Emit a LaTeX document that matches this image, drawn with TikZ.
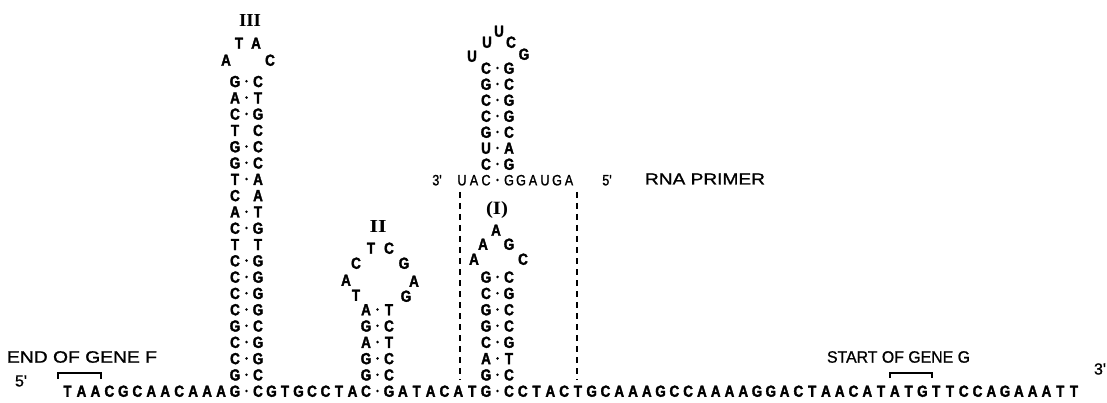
\documentclass[tikz,border=0pt]{standalone}
\usepackage{fontspec}
\usepackage{graphicx}
\setmainfont{Liberation Sans}
\newfontfamily\seqfont{Liberation Sans}[FakeStretch=0.84, BoldFeatures={FakeBold=2}]
\newfontfamily\labfont{Liberation Sans}[FakeBold=1]
\newfontfamily\rnafont{Liberation Sans}[FakeStretch=0.84, FakeBold=1.2]
\newfontfamily\romfont{Liberation Serif}
\newcommand\seqsize{\fontsize{16}{16}\selectfont}
\newcommand\rnasize{\fontsize{15}{15}\selectfont}

% a run of bases: name prefix, first x, pitch, y, letters
\newcommand\baserun[5]{%
  \foreach \c [count=\i] in {#5}
    \node[nt] (#1\i) at ({#2+(\i-1)*#3},#4) {\c};}

% a paired stem: name prefix, left x, right x, top y, row step, rows l/r/dot
\newcommand\stem[6]{%
  \foreach \l/\r/\d [count=\k] in {#6} {
    \node[nt] (#1l\k) at (#2,{#4+(\k-1)*#5}) {\l};
    \node[nt] (#1r\k) at (#3,{#4+(\k-1)*#5}) {\r};
    \ifnum\d=1 \fill ({(#2+#3)/2},{#4+(\k-1)*#5}) circle (1.4pt);\fi
  }}

\begin{document}
\begin{tikzpicture}[x=1pt,y=-1pt,
  nt/.style={font=\seqfont\seqsize\bfseries, inner sep=0pt, text height=11.5pt, text depth=0pt},
  rt/.style={font=\rnafont\rnasize, inner sep=0pt, text height=10.7pt, text depth=0pt},
  lab/.style={inner sep=0pt, font=\labfont},
  numeral/.style={inner sep=0pt, font=\romfont\bfseries},
  brk/.style={line width=1.5pt},
  guide/.style={line width=1.7pt, dash pattern=on 6pt off 5pt}]

\useasboundingbox (0,0) rectangle (1107,403);

% ---- template strand ----
\baserun{a}{67.5}{13.96}{391}{T,A,A,C,G,C,A,A,C,A,A,A,G}
\baserun{b}{258}{13.5}{391}{C,G,T,G,C,C,T,A,C}
\baserun{c}{389}{13.86}{391}{G,A,T,A,C,A,T,G}
\baserun{d}{509}{13.78}{391}{C,C,T,A,C,T,G,C,A,A,A,G,C,C,A,A,A,A,G,G,A,C,T,A,A,C,A,T,A,T,G,T,T,C,C,A,G,A,A,A,T,T}
\fill (246.5,391) circle (1.4pt);
\fill (377.5,391) circle (1.4pt);
\fill (497.5,391) circle (1.4pt);

\node[lab] (five) at (21,381) {\seqsize 5'};
\node[lab] (three) at (1100,369) {\seqsize 3'};

% ---- hairpin III ----
\stem{h3}{235}{258}{81.3}{16.3}{G/C/1,A/T/1,C/G/1,T/C/0,G/C/1,G/C/1,T/A/1,C/A/0,A/T/1,C/G/1,T/T/0,C/G/1,C/G/1,C/G/1,C/G/1,G/C/1,C/G/1,C/G/1,G/C/1}
\node[nt] (l3a) at (226,60) {A};
\node[nt] (l3b) at (239,43) {T};
\node[nt] (l3c) at (256,43) {A};
\node[nt] (l3d) at (270,60) {C};
\node[numeral] (n3) at (250,21) {\resizebox{22pt}{12pt}{III}};

% ---- hairpin II ----
\stem{h2}{366}{389}{309.5}{16.3}{A/T/1,G/C/1,A/T/1,G/C/1,G/C/1}
\node[nt] (l2a) at (356,295) {T};
\node[nt] (l2b) at (346,280) {A};
\node[nt] (l2c) at (356,263) {C};
\node[nt] (l2d) at (371,248) {T};
\node[nt] (l2e) at (389,248) {C};
\node[nt] (l2f) at (404,263) {G};
\node[nt] (l2g) at (414,281) {A};
\node[nt] (l2h) at (406,296) {G};
\node[numeral] (n2) at (378,227) {\resizebox{17pt}{12pt}{II}};

% ---- hairpin I ----
\stem{h1}{486}{509}{276.9}{16.3}{G/C/1,C/G/1,G/C/1,G/C/1,C/G/1,A/T/1,G/C/1}
\node[nt] (l1a) at (474,259) {A};
\node[nt] (l1b) at (483,244) {A};
\node[nt] (l1c) at (496,230) {A};
\node[nt] (l1d) at (509,244) {G};
\node[nt] (l1e) at (523,259) {C};
\node[numeral] (n1) at (497,210) {\resizebox{22pt}{13pt}{(I)}};

% ---- RNA primer hairpin ----
\stem{rp}{486}{509}{68}{16}{C/G/1,G/C/1,C/G/1,C/G/1,G/C/1,U/A/1,C/G/1}
\node[nt] (rla) at (472,56) {U};
\node[nt] (rlb) at (487,42) {U};
\node[nt] (rlc) at (499,31) {U};
\node[nt] (rld) at (511,42) {C};
\node[nt] (rle) at (524,54) {G};
\foreach \c/\x [count=\i] in {U/462,A/474,C/486,G/509,G/521,A/533,U/545,G/557,A/569}
  \node[rt] (r\i) at (\x,180) {\c};
\fill (497.5,180) circle (1.4pt);
\node[rt] (rthree) at (437,180) {3'};
\node[rt] (rfive) at (607,180) {5'};
\node[lab] (primer) at (705,179) {\resizebox{120pt}{11pt}{RNA PRIMER}};

% ---- region spanned by the primer ----
\coordinate (gl1) at (460,192);
\coordinate (gl2) at (460,380);
\coordinate (gr1) at (577,192);
\coordinate (gr2) at (577,380);
\draw[guide] (gl1) -- (gl2);
\draw[guide] (gr1) -- (gr2);

% ---- gene ends ----
\node[lab] (endF) at (82,357) {\resizebox{150pt}{11.5pt}{END OF GENE F}};
\node[lab] (startG) at (898.5,357) {\resizebox{143pt}{11.5pt}{START OF GENE G}};
\coordinate (bf1) at (58,379);
\coordinate (bf2) at (101,379);
\draw[brk] (bf1) -- ++(0,-6) -| (bf2);
\coordinate (bg1) at (890,378);
\coordinate (bg2) at (932,378);
\draw[brk] (bg1) -- ++(0,-5) -| (bg2);
\end{tikzpicture}
\end{document}
